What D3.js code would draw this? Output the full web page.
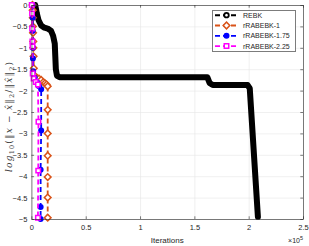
<!DOCTYPE html>
<html>
<head>
<meta charset="utf-8">
<script src="https://cdn.jsdelivr.net/npm/d3@7"></script>
<style>
body { margin: 0; background: #fff; }
svg { display: block; }
.tick text { font-family: "Liberation Sans", Arial, sans-serif; font-size: 7.5px; fill: #262626; }
</style>
</head>
<body>
<div id="chart"></div>
<script>
// x in units of 1e5 iterations, y = log10 relative error
var xTicks = [0, 0.5, 1, 1.5, 2, 2.5];
var yTicks = [0, -0.5, -1, -1.5, -2, -2.5, -3, -3.5, -4, -4.5, -5];
var seriesNames = ["REBK", "rRABEBK-1", "rRABEBK-1.75", "rRABEBK-2.25"];
var seriesColors = ["#000000", "#D95319", "#0000FF", "#FF00FF"];

var rebk = [[0.035,0],[0.05,-0.2],[0.065,-0.35],[0.09,-0.48],[0.12,-0.53],[0.15,-0.55],[0.18,-0.6],
    [0.2,-0.72],[0.215,-0.9],[0.22,-1.2],[0.225,-1.5],[0.235,-1.65],[0.26,-1.69],[0.5,-1.69],
    [1.0,-1.69],[1.62,-1.69],[1.64,-1.82],[1.67,-1.87],[1.99,-1.87],[2.01,-1.95],[2.085,-4.95]];
var r1 = [[0.01,0],[0.012,-0.12],[0.013,-0.3],[0.014,-0.5],[0.015,-0.65],[0.017,-0.85],[0.018,-1.0],
    [0.02,-1.2],[0.022,-1.48],[0.03,-1.65],[0.05,-1.7],[0.07,-1.72],[0.09,-1.75],[0.11,-1.8],[0.125,-1.83],
    [0.14,-1.86],[0.15,-1.9],[0.15,-2.45],[0.15,-3.0],[0.15,-3.52],[0.15,-4.02],[0.15,-4.5],[0.15,-4.97]];
var r175 = [[0.01,0],[0.012,-0.3],[0.012,-0.6],[0.013,-1.0],[0.014,-1.25],[0.016,-1.55],[0.03,-1.7],
    [0.05,-1.8],[0.07,-1.9],[0.09,-1.97],[0.09,-2.93],[0.085,-3.85],[0.085,-4.72],[0.085,-5]];
var r225 = [[0.003,0],[0.006,-0.2],[0.007,-0.55],[0.009,-0.85],[0.01,-0.97],[0.012,-1.6],[0.02,-1.72],
    [0.04,-1.8],[0.06,-1.86],[0.065,-2.73],[0.063,-3.87],[0.06,-4.97]];

var W = 309, H = 246;
var pLeft = 31.4, pRight = 303, pTop = 5, pBottom = 219;

var x = d3.scaleLinear().domain([0, 2.5]).range([pLeft, pRight]);
var y = d3.scaleLinear().domain([-5, 0]).range([pBottom, pTop]);

var svg = d3.select("#chart").append("svg").attr("width", W).attr("height", H);

// grid
svg.append("g").attr("transform", "translate(0," + pBottom + ")")
    .call(d3.axisBottom(x).tickValues(xTicks).tickSize(-(pBottom - pTop)).tickFormat(""))
    .call(function (g) { g.select(".domain").remove(); g.selectAll("line").attr("stroke", "#e6e6e6").attr("stroke-width", 0.6); });
svg.append("g").attr("transform", "translate(" + pLeft + ",0)")
    .call(d3.axisLeft(y).tickValues(yTicks).tickSize(-(pRight - pLeft)).tickFormat(""))
    .call(function (g) { g.select(".domain").remove(); g.selectAll("line").attr("stroke", "#e6e6e6").attr("stroke-width", 0.6); });

var line = d3.line().x(function (d) { return x(d[0]); }).y(function (d) { return y(d[1]); });
var dash = "5,3";

// REBK: markers are so dense the line looks like a thick band
svg.append("path").datum(rebk).attr("d", line).attr("fill", "none")
    .attr("stroke", "#000").attr("stroke-width", 6).attr("stroke-linejoin", "round").attr("stroke-linecap", "round");

var diamond = d3.symbol().type(d3.symbolSquare).size(22);
var circle = d3.symbol().type(d3.symbolCircle).size(16);
var square = d3.symbol().type(d3.symbolSquare).size(20);

function drawSeries(data, color, sym, rot, fill) {
    svg.append("path").datum(data).attr("d", line).attr("fill", "none")
        .attr("stroke", color).attr("stroke-width", 1.8).attr("stroke-dasharray", dash);
    svg.append("g").selectAll("path").data(data).enter().append("path")
        .attr("d", sym)
        .attr("transform", function (d) { return "translate(" + x(d[0]) + "," + y(d[1]) + ") rotate(" + rot + ")"; })
        .attr("fill", fill).attr("stroke", color).attr("stroke-width", 1.5);
}
drawSeries(r1, seriesColors[1], diamond, 45, "#fff");
drawSeries(r175, seriesColors[2], circle, 0, seriesColors[2]);
drawSeries(r225, seriesColors[3], square, 0, "#fff");

// axes
svg.append("g").attr("transform", "translate(0," + pBottom + ")")
    .call(d3.axisBottom(x).tickValues(xTicks).tickSizeInner(-2.7).tickSizeOuter(0).tickPadding(6).tickFormat(d3.format("")));
svg.append("g").attr("transform", "translate(" + pLeft + ",0)")
    .call(d3.axisLeft(y).tickValues(yTicks).tickSizeInner(-2.7).tickSizeOuter(0).tickPadding(4).tickFormat(d3.format("")));
svg.append("g").attr("transform", "translate(0," + pTop + ")")
    .call(d3.axisTop(x).tickValues(xTicks).tickSizeInner(-2.7).tickSizeOuter(0).tickFormat(""));
svg.append("g").attr("transform", "translate(" + pRight + ",0)")
    .call(d3.axisRight(y).tickValues(yTicks).tickSizeInner(-2.7).tickSizeOuter(0).tickFormat(""));
svg.selectAll(".domain, .tick line").filter(function () { return this.getAttribute("stroke") !== "#e6e6e6"; })
    .attr("stroke", "#262626").attr("stroke-width", 0.6);

// axis labels
svg.append("text").attr("x", (pLeft + pRight) / 2).attr("y", 243).attr("text-anchor", "middle")
    .style("font-family", "Liberation Sans, Arial, sans-serif").style("font-size", "8px").style("fill", "#262626")
    .text("Iterations");
var ex = svg.append("text").attr("x", pRight).attr("y", 243).attr("text-anchor", "end")
    .style("font-family", "Liberation Sans, Arial, sans-serif").style("font-size", "7px").style("fill", "#262626");
ex.append("tspan").text("\u00d710");
ex.append("tspan").attr("dy", -3).style("font-size", "5.5px").text("5");

var yl = svg.append("text").attr("transform", "translate(11.5,117) rotate(-90)")
    .attr("text-anchor", "middle")
    .style("font-family", "DejaVu Serif, serif").style("font-size", "9px").style("fill", "#404040");
yl.append("tspan").style("font-style", "italic").text("log");
yl.append("tspan").attr("dy", 2).style("font-size", "6.5px").text("10");
yl.append("tspan").attr("dy", -2).text("(\u2016");
yl.append("tspan").style("font-style", "italic").text("x");
yl.append("tspan").text(" \u2212 ");
yl.append("tspan").style("font-style", "italic").text("x\u0302");
yl.append("tspan").text("\u2016");
yl.append("tspan").attr("dy", 2).style("font-size", "6.5px").text("2");
yl.append("tspan").attr("dy", -2).text("/\u2016");
yl.append("tspan").style("font-style", "italic").text("x\u0302");
yl.append("tspan").text("\u2016");
yl.append("tspan").attr("dy", 2).style("font-size", "6.5px").text("2");
yl.append("tspan").attr("dy", -2).text(")");
yl.attr("textLength", 110).attr("lengthAdjust", "spacing");

// legend
var lg = svg.append("g");
lg.append("rect").attr("x", 212.3).attr("y", 10.7).attr("width", 83.4).attr("height", 40.6)
    .attr("fill", "#fff").attr("stroke", "#262626").attr("stroke-width", 0.6);
var legSyms = [circle, diamond, circle, square];
var legRot = [0, 45, 0, 0];
var legFill = ["#fff", "#fff", seriesColors[2], "#fff"];
seriesNames.forEach(function (name, i) {
    var ly = 15.2 + i * 10.3;
    lg.append("line").attr("x1", 215).attr("x2", 238).attr("y1", ly).attr("y2", ly)
        .attr("stroke", seriesColors[i]).attr("stroke-width", i === 0 ? 2 : 1.8).attr("stroke-dasharray", dash);
    lg.append("path").attr("d", legSyms[i]).attr("transform", "translate(226.5," + ly + ") rotate(" + legRot[i] + ")")
        .attr("fill", legFill[i]).attr("stroke", seriesColors[i]).attr("stroke-width", i === 0 ? 1.8 : 1.5);
    lg.append("text").attr("x", 243).attr("y", ly + 2.6)
        .style("font-family", "Liberation Sans, Arial, sans-serif").style("font-size", "7px").style("fill", "#262626")
        .text(name);
});
</script>
</body>
</html>
